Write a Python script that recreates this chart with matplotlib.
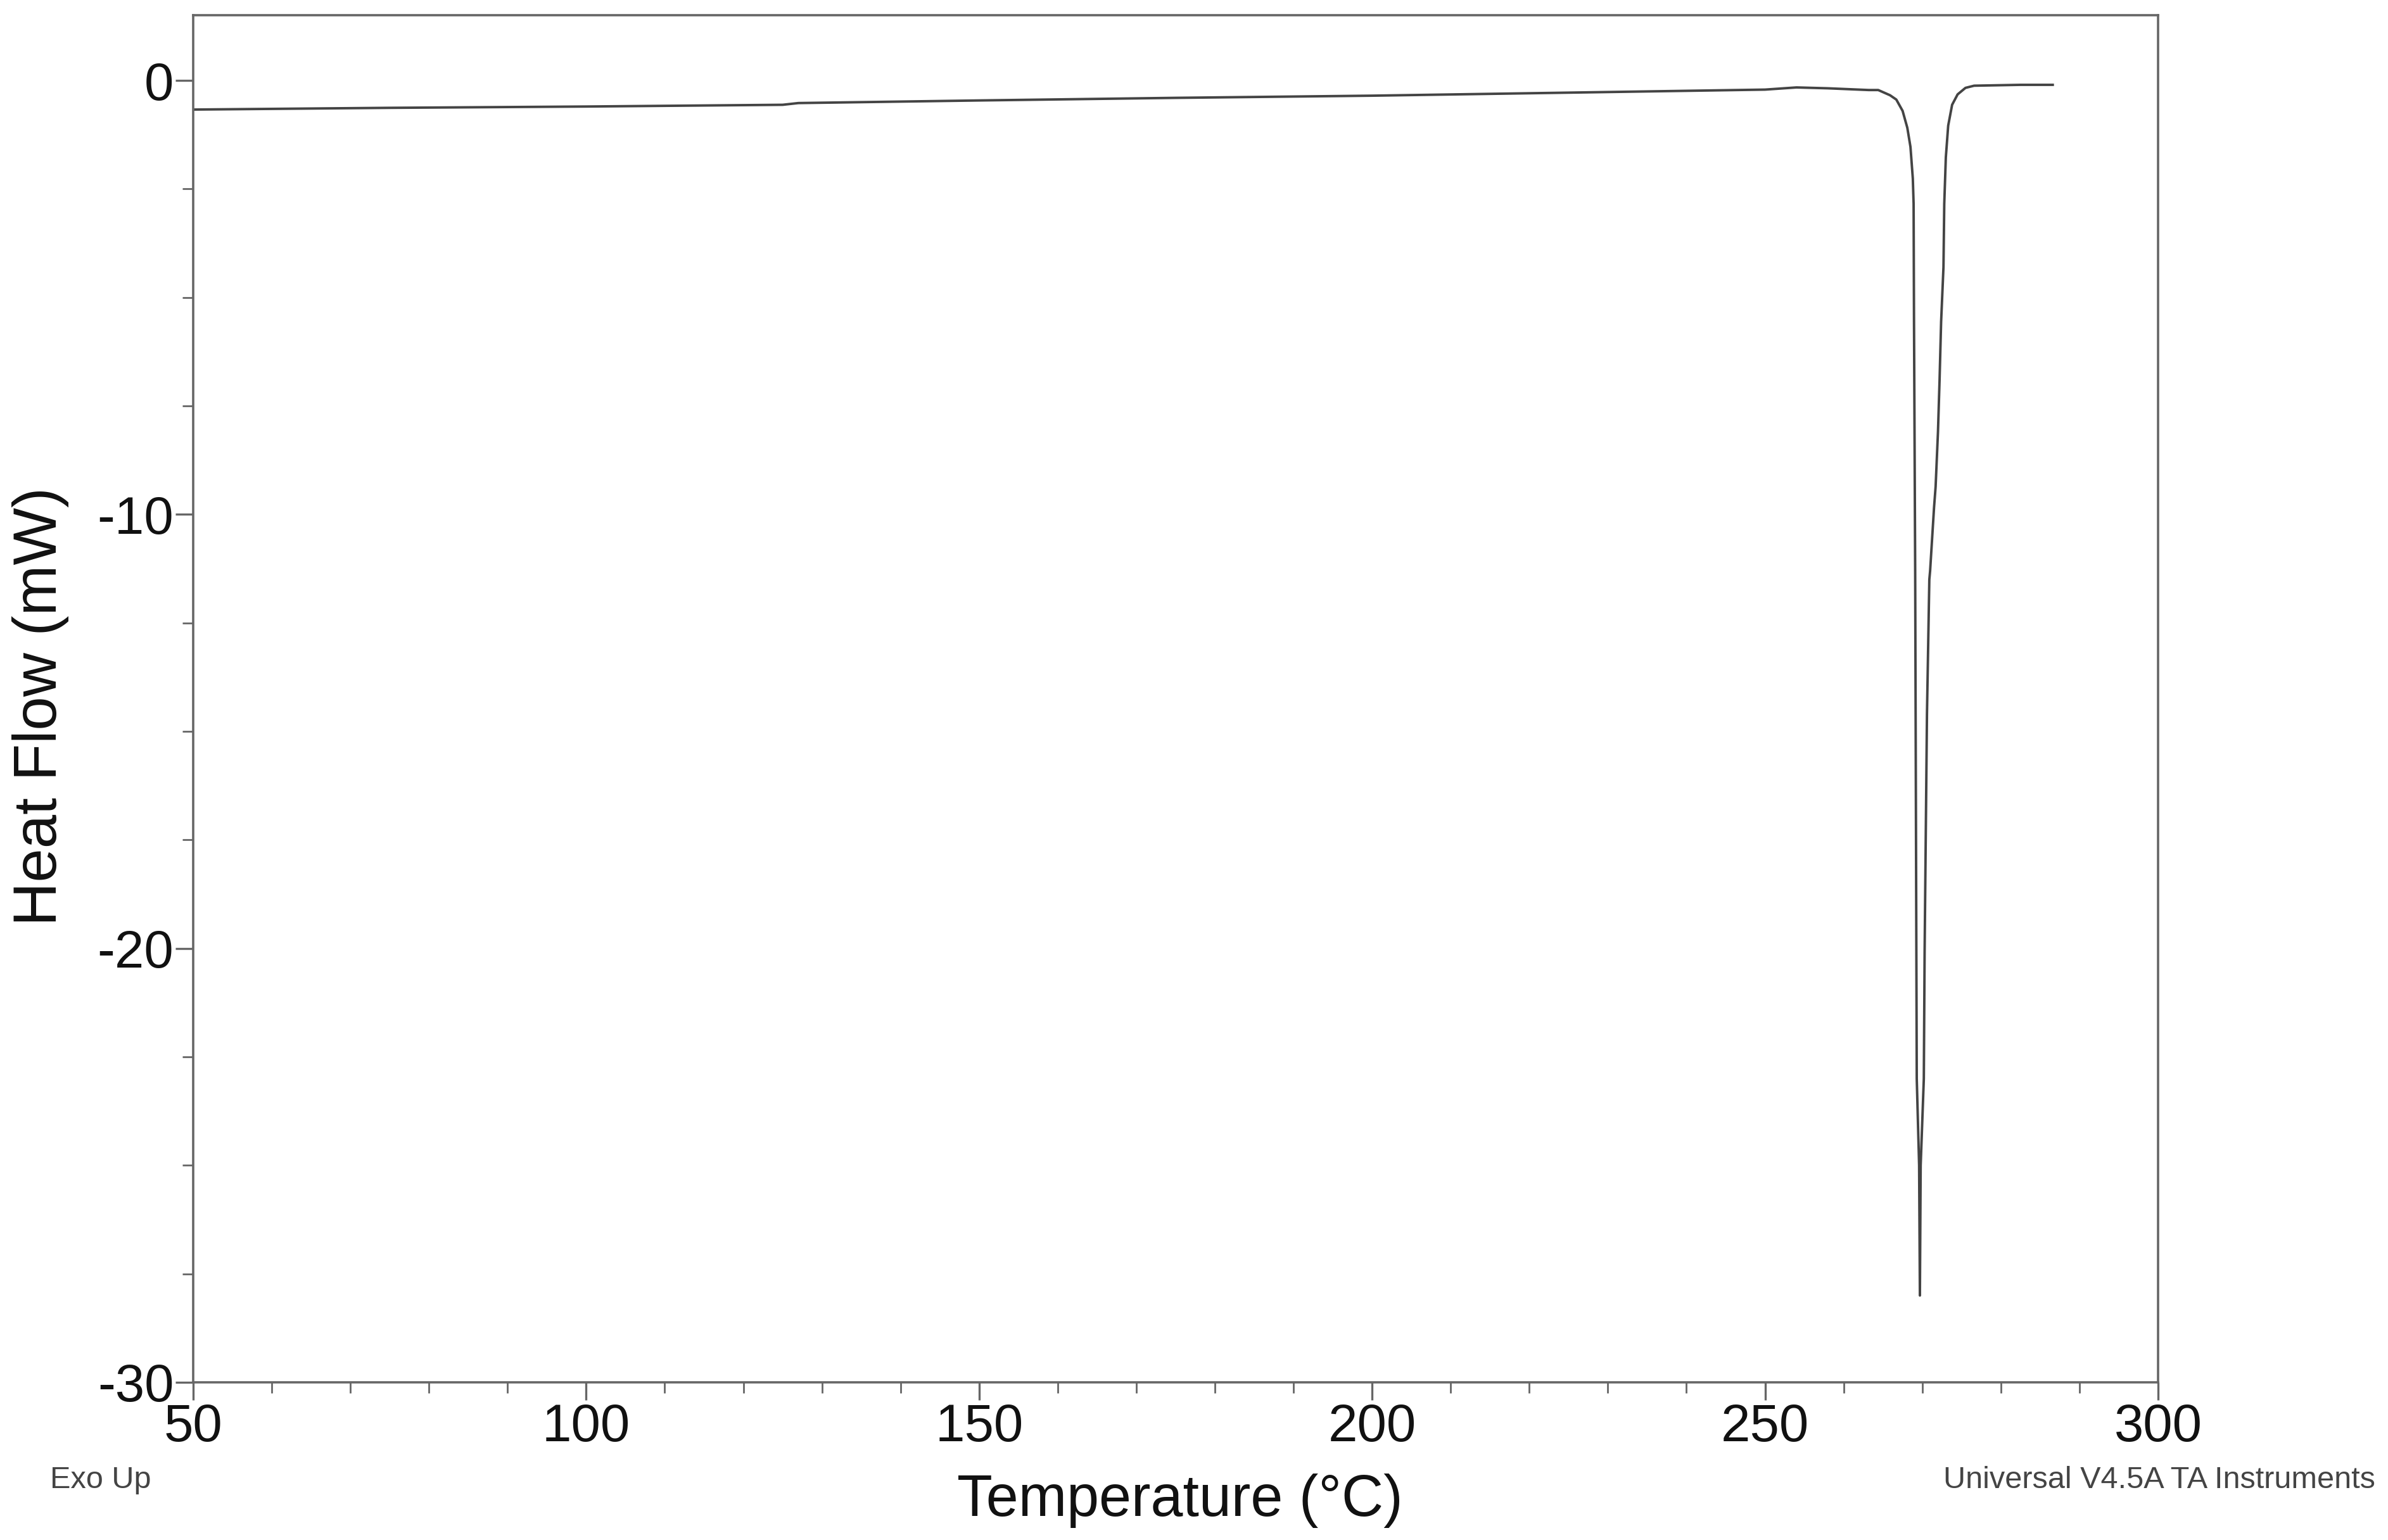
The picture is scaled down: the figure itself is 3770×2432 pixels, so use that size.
import matplotlib
matplotlib.use("Agg")
import matplotlib.pyplot as plt
from matplotlib.ticker import MultipleLocator

plt.rcParams['font.family'] = ['Liberation Sans', 'DejaVu Sans']

# DSC trace (temperature in degC, heat flow in mW)
temp = [50, 75, 100, 125, 127, 150, 175, 200, 225, 250, 254, 258,
        263.2, 264.4, 265.9, 266.7, 267.5, 268.1, 268.5, 268.8, 268.9, 268.95,
        269.1, 269.3, 269.6, 269.7, 269.8, 270.2, 270.3, 270.6, 270.9,
        271.0, 271.5, 271.7, 272.0, 272.2, 272.4, 272.7, 272.8, 273.0, 273.3,
        273.8, 274.5, 275.5, 276.6, 282.5, 286.6]
heat_flow = [-0.67, -0.63, -0.60, -0.56, -0.52, -0.46, -0.40, -0.35, -0.28, -0.21, -0.16, -0.18,
             -0.22, -0.22, -0.34, -0.44, -0.70, -1.09, -1.53, -2.26, -2.84, -5.5,
             -11.3, -23.0, -25.0, -28.0, -25.0, -23.0, -20.1, -14.6, -11.5,
             -11.3, -9.84, -9.36, -8.1, -6.92, -5.56, -4.3, -2.84, -1.77, -1.04,
             -0.56, -0.32, -0.17, -0.12, -0.1, -0.1]

x_ticks = [50, 100, 150, 200, 250, 300]
y_ticks = [0, -10, -20, -30]

fig = plt.figure(figsize=(37.7, 24.32), dpi=100)
ax = fig.add_axes([0.0809, 0.1024, 0.9037 - 0.0809, 0.990 - 0.1024])

ax.plot(temp, heat_flow, color='#444444', linewidth=2.8)

ax.set_xlim(50, 300)
ax.set_ylim(-30, 1.5)
ax.set_xticks(x_ticks)
ax.set_yticks(y_ticks)
ax.set_yticklabels([str(v) for v in y_ticks])
ax.xaxis.set_minor_locator(MultipleLocator(10))
ax.yaxis.set_minor_locator(MultipleLocator(2.5))

for s in ax.spines.values():
    s.set_color('#666666')
    s.set_linewidth(2.6)

ax.tick_params(which='major', direction='out', length=20, width=2.4,
               color='#666666', labelsize=60, pad=3, labelcolor='#111111')
ax.tick_params(which='minor', direction='out', length=12, width=2.0, color='#666666')
ax.tick_params(axis='y', which='major', pad=2)

fig.text(0.017, 0.5415, 'Heat Flow (mW)', rotation=90, ha='center', va='center',
         fontsize=69, color='#111111')
fig.text(0.494, 0.0255, 'Temperature (\u00b0C)', ha='center', va='center',
         fontsize=66, color='#111111')
fig.text(0.021, 0.039, 'Exo Up', ha='left', va='center', fontsize=35, color='#444444')
fig.text(0.9947, 0.039, 'Universal V4.5A TA Instruments', ha='right', va='center',
         fontsize=35, color='#444444')

fig.savefig('out.png', dpi=100, facecolor='white')
